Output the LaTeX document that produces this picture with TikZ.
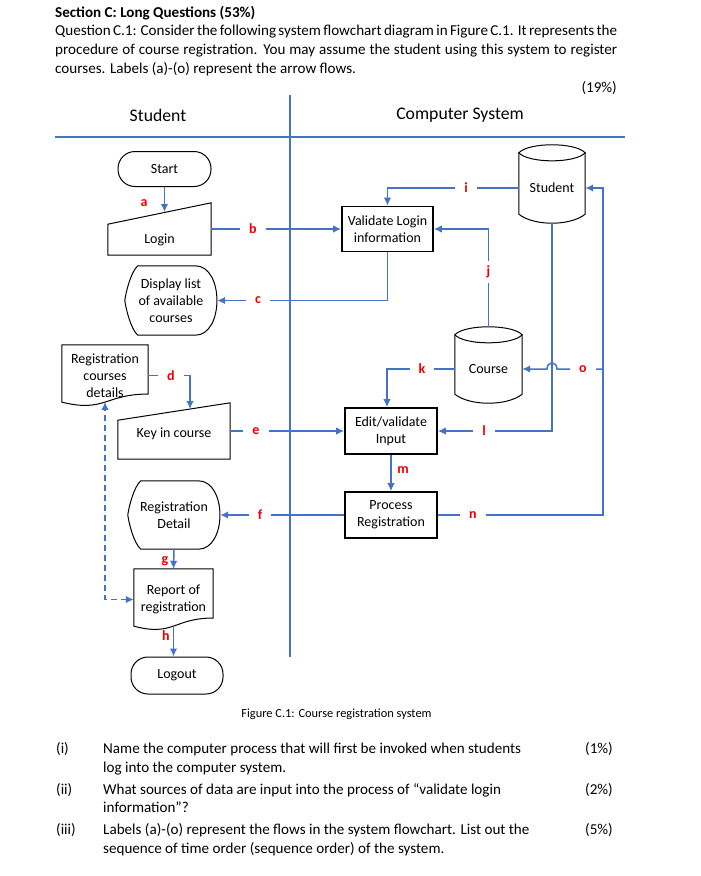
\documentclass[tikz,border=0pt]{standalone}
\usepackage{fontspec}
\setmainfont{Carlito}
\usetikzlibrary{arrows.meta,calc}
\definecolor{flowblue}{RGB}{68,114,196}
\definecolor{lblred}{RGB}{235,0,0}
\newcommand\mydisp[1]{\draw[outl] ($(#1.north west)+(13,0)$) -- ($(#1.north east)+(-22,0)$) .. controls ($(#1.north east)+(7,0)$) and ($(#1.south east)+(7,0)$) .. ($(#1.south east)+(-22,0)$) -- ($(#1.south west)+(13,0)$) .. controls ($(#1.south west)+(6,-6)$) and ($(#1.west)+(1,8)$) .. (#1.west) .. controls ($(#1.west)+(1,-8)$) and ($(#1.north west)+(6,6)$) .. ($(#1.north west)+(13,0)$) -- cycle;}
\newcommand\mydoc[1]{\draw[outl] (#1.north west) -- (#1.north east) -- ($(#1.north east)!0.802!(#1.south east)$) .. controls ($(#1.north)!0.802!(#1.south)$) and ($(#1.north)!1.1075!(#1.south)$) .. ($(#1.north west)!0.934!(#1.south west)$) -- cycle;}
\newcommand\mycyl[1]{\draw[outl] (#1.north west) -- ($(#1.south west)+(0,-9)$) .. controls ($(#1.south west)+(15,3)$) and ($(#1.south east)+(-15,3)$) .. ($(#1.south east)+(0,-9)$) -- (#1.north east);
 \draw[outl] (#1.north west) .. controls ($(#1.north west)+(10,-10.7)$) and ($(#1.north east)+(-10,-10.7)$) .. (#1.north east) .. controls ($(#1.north east)+(-10,10.7)$) and ($(#1.north west)+(10,10.7)$) .. (#1.north west) -- cycle;}
\begin{document}
\begin{tikzpicture}[x=1pt,y=-1pt,
  box/.style={draw=black,line width=1.6pt,minimum width=92pt,minimum height=46pt,inner sep=0pt,align=center,font=\fontsize{14}{17}\selectfont},
  term/.style={draw=black,line width=1pt,rounded corners=17pt,minimum height=35pt,inner sep=0pt,font=\fontsize{14}{17}\selectfont},
  shp/.style={inner sep=0pt,align=center,font=\fontsize{14}{17}\selectfont},
  outl/.style={draw=black,line width=1pt},
  flow/.style={draw=flowblue,line width=1.5pt,-{Latex[length=8pt,width=7.5pt]}},
  lbl/.style={fill=white,text=lblred,font=\bfseries\fontsize{14}{15}\selectfont,inner xsep=9pt,inner ysep=5pt},
  lblfree/.style={text=lblred,font=\bfseries\fontsize{14}{15}\selectfont,inner sep=0pt},
  lane/.style={draw=flowblue,line width=1.2pt},
  body/.style={font=\fontsize{15.1}{18.5}\selectfont,inner sep=0pt},
  hdr/.style={font=\fontsize{17.7}{19}\selectfont,inner sep=0pt},
]
\fill[white] (0,0) rectangle (701,876);
\useasboundingbox (0,0) rectangle (701,876);

% header text
\node[body,anchor=base west,font=\bfseries\fontsize{15.1}{18.5}\selectfont] (title) at (55,17) {Section C: Long Questions (53\%)};
\node[body,anchor=base west] (q1) at (55,35) {\makebox[562pt][s]{Question C.1: Consider the following system flowchart diagram in Figure C.1. It represents the}};
\node[body,anchor=base west] (q2) at (55,54) {\makebox[562pt][s]{procedure of course registration. You may assume the student using this system to register}};
\node[body,anchor=base west] (q3) at (55,73) {courses. Labels (a)-(o) represent the arrow flows.};
\node[body,anchor=base east] (mk) at (617,92) {(19\%)};

% swimlanes
\draw[lane] (290,95) -- (290,657);
\draw[lane] (55,137) -- (625,137);
\node[hdr] (hs) at (158,115) {Student};
\node[hdr] (hc) at (460,115) {Computer System};

% student lane shapes
\node[term,minimum width=93pt] (start) at (164.5,169) {Start};
\node[shp,minimum width=103pt,minimum height=52pt,label={[shp,yshift=-11pt]center:Login}] (login) at (159.5,229) {};
\draw[outl] (login.south west) -- (login.south east) -- (login.north east) -- ($(login.south west)+(0,-31)$) -- cycle;
\coordinate (logintop) at (164.5,212);

\node[shp,minimum width=92pt,minimum height=69pt] (disp) at (171,300.5) {Display list\\of available\\courses};
\mydisp{disp}

\node[shp,minimum width=86pt,minimum height=61pt] (rcd) at (105,375.5) {Registration\\courses\\details};
\mydoc{rcd}

\node[shp,minimum width=112pt,minimum height=56pt,label={[shp,yshift=-3pt]center:Key in course}] (keyin) at (174,431) {};
\draw[outl] (keyin.south west) -- (keyin.south east) -- (keyin.north east) -- ($(keyin.south west)+(0,-39)$) -- cycle;
\coordinate (kitop) at (190,409);

\node[shp,minimum width=92pt,minimum height=68pt] (regdet) at (174,515) {Registration\\Detail};
\mydisp{regdet}

\node[shp,minimum width=79pt,minimum height=61pt] (report) at (173.5,599.5) {Report of\\registration};
\mydoc{report}

\node[term,minimum width=92pt,minimum height=37pt] (logout) at (177,675.5) {Logout};

% computer lane shapes
\node[box,minimum width=91pt,minimum height=45pt] (validate) at (387.5,229) {Validate Login\\information};
\node[box] (edit) at (391,431) {Edit/validate\\Input};
\node[box] (proc) at (391,515) {Process\\Registration};
\node[shp,minimum width=66pt,minimum height=70pt] (sdb) at (552,188) {Student};
\mycyl{sdb}
\node[shp,minimum width=67pt,minimum height=68pt] (course) at (488.5,369) {Course};
\mycyl{course}
\coordinate (ojoin) at (602,369);

% connectors
\draw[flow] (start.south) -- (logintop);
\draw[flow] (login.east) -- (validate.west);
\draw[flow] (validate.south) |- (disp.east);
\draw[flow] (sdb.west) -| (validate.north);
\draw[flow] ($(course.north)+(0,-8)$) |- (validate.east);
\draw[flow] (course.west) -| ($(edit.north)+(-4,0)$);
\draw[flow] (sdb.south) |- (edit.east);
\draw[flow] (edit.south) -- (proc.north);
\draw[flow] (proc.east) -- ++(165,0) |- (sdb.east);
\draw[flow] (ojoin) -- (557,369) .. controls (557,361) and (547,361) .. (547,369) -- (course.east);
\draw[flow] (rcd.east) -| (kitop);
\draw[flow] (keyin.east) -- (edit.west);
\draw[flow] (proc.west) -- (regdet.east);
\draw[flow] (regdet.south) -- (report.north);
\draw[flow] ($(report.north)!0.93!(report.south)$) -- (logout.north -| report.south);
\draw[flow,{Latex[length=8pt,width=7.5pt]}-{Latex[length=8pt,width=7.5pt]},dash pattern=on 6pt off 4pt] (report.west) -| ($(rcd.north)!0.93!(rcd.south)$);

% flow labels
\node[lblfree] (la) at (144,203) {a};
\node[lbl] (lb) at (253,229) {b};
\node[lbl] (lc) at (258,300.5) {c};
\node[lbl] (ld) at (171,376) {d};
\node[lbl] (le) at (256,431) {e};
\node[lbl] (lf) at (260,515) {f};
\node[lblfree] (lg) at (165,561) {g};
\node[lblfree] (lh) at (166,636) {h};
\node[lbl] (li) at (466,188) {i};
\node[lbl] (lj) at (488.5,272) {j};
\node[lbl] (lk) at (422,369) {k};
\node[lbl] (ll) at (484,431) {l};
\node[lblfree] (lm) at (403,470) {m};
\node[lbl] (ln) at (473,515) {n};
\node[lbl] (lo) at (583,369) {o};

% caption and questions
\node[font=\fontsize{12.4}{14}\selectfont,inner sep=0pt] (cap) at (336.5,714) {Figure C.1: Course registration system};
\node[body,anchor=base west] (ni) at (56,753) {(i)};
\node[body,anchor=base west] (ti1) at (103,753) {Name the computer process that will first be invoked when students};
\node[body,anchor=base west] (ti2) at (103,772) {log into the computer system.};
\node[body,anchor=base east] (pi) at (613,753) {(1\%)};
\node[body,anchor=base west] (nii) at (56,794) {(ii)};
\node[body,anchor=base west] (tii1) at (103,794) {What sources of data are input into the process of “validate login};
\node[body,anchor=base west] (tii2) at (103,812) {information”?};
\node[body,anchor=base east] (pii) at (613,794) {(2\%)};
\node[body,anchor=base west] (niii) at (56,834) {(iii)};
\node[body,anchor=base west] (tiii1) at (103,834) {Labels (a)-(o) represent the flows in the system flowchart. List out the};
\node[body,anchor=base west] (tiii2) at (103,853) {sequence of time order (sequence order) of the system.};
\node[body,anchor=base east] (piii) at (613,834) {(5\%)};
\end{tikzpicture}
\end{document}
